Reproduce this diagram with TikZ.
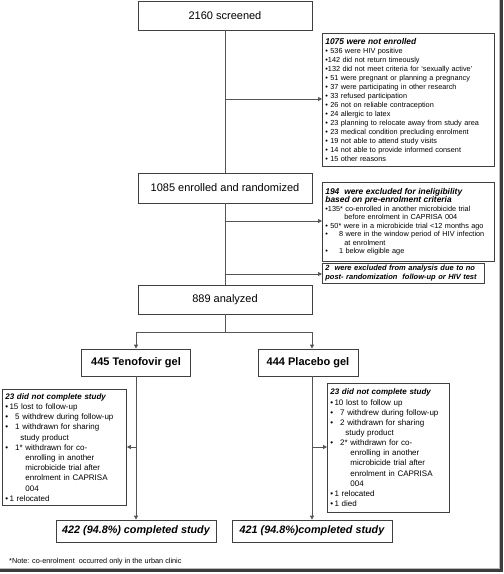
\documentclass[tikz,border=0pt]{standalone}
\usepackage{fontspec}
\setmainfont{Liberation Sans}
\usetikzlibrary{arrows.meta}
\definecolor{boxc}{HTML}{404040}
\definecolor{linec}{HTML}{555555}
\definecolor{framec}{HTML}{3C3C3C}
\newcommand\fs[2]{\fontsize{#1}{#2}\selectfont}
\newcommand\hd[1]{{\bfseries\itshape #1}}
\newcommand\bu{\textbullet\ }
\newcommand\bi[1]{\textbullet\hspace{#1}}
\begin{document}
\begin{tikzpicture}[x=1pt,y=-1pt,
  box/.style={draw=boxc,line width=0.8pt,inner sep=0pt},
  mainbox/.style={box,minimum width=174pt,minimum height=29pt,font=\fs{11}{13}},
  armbox/.style={box,minimum height=27pt,font=\bfseries\fs{11}{13}},
  donebox/.style={box,minimum width=160pt,minimum height=22pt,font=\bfseries\itshape\fs{10.8}{13}},
  info/.style n args={2}{box,anchor=north west,align=left,inner xsep=3pt,inner ysep=0pt,text width=#1,minimum height=#2},
  conn/.style={draw=linec,line width=0.8pt},
  arr/.style={conn,-{Triangle[length=4pt,width=4pt]}},
]
\useasboundingbox (0,0) rectangle (504,574);
% outer frame shadow
\draw[line width=1pt,draw=gray!55] (499,0) -- (499,568) -- (0,568);
\draw[line width=2.2pt,draw=framec] (501.5,0) -- (501.5,570.5) -- (0,570.5);

% main column
\node[mainbox] (s1) at (225,15.5) {2160 screened};
\node[mainbox,minimum height=30pt] (s2) at (225,188) {1085 enrolled and randomized};
\node[mainbox] (s3) at (225,299.5) {889 analyzed};

% right information boxes
\node[info={166pt}{133pt},font=\fs{7.3}{9.05}] (b1) at (322,33) {%
\hd{\fs{8.4}{9}1075 were not enrolled}\\
\bu 536 were HIV positive\\
\textbullet142 did not return timeously\\
\textbullet132 did not meet criteria for ‘sexually active’\\
\bu 51 were pregnant or planning a pregnancy\\
\bu 37 were participating in other research\\
\bu 33 refused participation\\
\bu 26 not on reliable contraception\\
\bu 24 allergic to latex\\
\bu 23 planning to relocate away from study area\\
\bu 23 medical condition precluding enrolment\\
\bu 19 not able to attend study visits\\
\bu 14 not able to provide informed consent\\
\bu 15 other reasons};

\node[info={166pt}{79pt},font=\fs{7.3}{8.5}] (b2) at (322,182) {%
\hd{\fs{8.4}{8.5}194 \ were excluded for ineligibility}\\
\hd{\fs{8.4}{8.5}based on pre-enrolment criteria}\\
\textbullet135* co-enrolled in another microbicide trial\\
\hspace*{19pt}before enrolment in CAPRISA 004\\
\bu 50* were in a microbicide trial <12 months ago\\
\bi{7pt}\phantom{0}8 were in the window period of HIV infection\\
\hspace*{19pt}at enrolment\\
\bi{7pt}\phantom{0}1 below eligible age};

\node[info={156pt}{20pt},font=\bfseries\itshape\fs{7.5}{9}] (b3) at (322,263) {%
2 \ were excluded from analysis due to no\\
post- randomization \ follow-up or HIV test};

% split to arms
\coordinate (split) at (225,332);
\coordinate (sl) at (136,332);
\coordinate (sr) at (312,332);
\node[armbox,minimum width=109pt] (armL) at (136,362.5) {445 Tenofovir gel};
\node[armbox,minimum width=100pt] (armR) at (308,362.5) {444 Placebo gel};

\node[info={118pt}{116pt},font=\fs{8}{10.2}] (d1) at (2,389) {%
\hd{23 did not complete study}\\
\textbullet\,15 lost to follow-up\\
\bi{7pt}5 withdrew during follow-up\\
\bi{7pt}1 withdrawn for sharing\\
\hspace*{15pt}study product\\
\bi{7pt}1* withdrawn for co-\\
\hspace*{20pt}enrolling in another\\
\hspace*{20pt}microbicide trial after\\
\hspace*{20pt}enrolment in CAPRISA\\
\hspace*{20pt}004\\
\textbullet\,1 relocated};

\node[info={116pt}{129pt},font=\fs{8}{10.15}] (d2) at (327,383) {%
\hd{23 did not complete study}\\
\textbullet\,10 lost to follow up\\
\bi{7pt}7 withdrew during follow-up\\
\bi{7pt}2 withdrawn for sharing\\
\hspace*{15pt}study product\\
\bi{7pt}2* withdrawn for co-\\
\hspace*{20pt}enrolling in another\\
\hspace*{20pt}microbicide trial after\\
\hspace*{20pt}enrolment in CAPRISA\\
\hspace*{20pt}004\\
\textbullet\,1 relocated\\
\textbullet\,1 died};

\node[donebox] (doneL) at (136,531) {422 (94.8\%) completed study};
\node[donebox] (doneR) at (312,531) {421 (94.8\%)completed study};

\node[anchor=west,inner sep=0pt,font=\fs{7.3}{8}] (note) at (9,562)
  {*Note: co-enrolment \ occurred only in the urban clinic};

% connectors
\coordinate (j1) at (225,99);
\coordinate (j2) at (225,221);
\coordinate (j3) at (225,274);
\coordinate (kL) at (136,447);
\coordinate (kR) at (312,447);
\draw[conn] (s1) -- (s2);
\draw[arr] (j1) -- (j1 -| b1.west);
\draw[conn] (s2) -- (s3);
\draw[arr] (j2) -- (j2 -| b2.west);
\draw[arr] (j3) -- (j3 -| b3.west);
\draw[conn] (s3) -- (split);
\draw[conn] (sl) -- (sr);
\draw[arr] (sl) -- (sl |- armL.north);
\draw[arr] (sr) -- (sr |- armR.north);
\draw[arr] (armL) -- (doneL);
\draw[arr] (armR.south -| sr) -- (doneR);
\draw[arr] (kL) -- (kL -| d1.east);
\draw[arr] (kR) -- (kR -| d2.west);
\end{tikzpicture}
\end{document}
